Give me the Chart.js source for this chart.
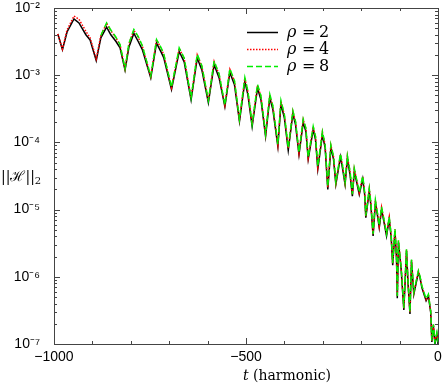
<!DOCTYPE html>
<html>
<head>
<meta charset="utf-8">
<script src="https://cdn.jsdelivr.net/npm/chart.js@4"></script>
<style>
  html, body { margin: 0; padding: 0; background: #fff; }
  #wrap { width: 443px; height: 384px; }
</style>
</head>
<body>
<div id="wrap"><canvas id="c" width="443" height="384"></canvas></div>
<script>
"use strict"
// t values (harmonic time) where the curves were read
let tVals = [-990,-978,-966,-948,-935,-917,-906,-890,-878,-863,-852,-839,-828,-815,-805,-792,-781,-770,-748,-733,-721,-714,-694,-674,-661,-643,-627,-615,-598,-583,-570,-555,-542,-530,-517,-503,-495,-484,-470,-461,-449,-438,-430,-417,-409,-400,-390,-378,-371,-362,-351,-344,-338,-325,-319,-313,-301,-294,-287,-279,-272,-266,-254,-249,-242,-236,-229,-223,-218,-212,-205,-196,-191,-188,-179,-175,-169,-163,-158,-153,-147,-141,-134,-127,-122,-118,-112,-108,-106,-103,-96,-89,-82,-78,-73,-69,-63,-51,-47,-42,-31,-25,-19,-16,-12,-8,-3,0]

let rho2 = [4.1e-3,2.4e-3,4.4e-3,6.9e-3,6.0e-3,4.0e-3,3.35e-3,1.65e-3,3.6e-3,5.2e-3,4.0e-3,3.2e-3,2.55e-3,1.19e-3,2.6e-3,4.2e-3,3.2e-3,2.4e-3,9.1e-4,3.0e-3,2.2e-3,1.8e-3,6.1e-4,2.25e-3,1.58e-3,4.3e-4,1.8e-3,1.2e-3,3.9e-4,1.43e-3,9.1e-4,3.4e-4,1.1e-3,7.2e-4,2.06e-4,8.1e-4,5.1e-4,1.73e-4,6.4e-4,4.3e-4,1.23e-4,4.6e-4,3.07e-4,8.7e-5,3.7e-4,2.3e-4,7.6e-5,2.65e-4,1.84e-4,6.6e-5,1.99e-4,1.45e-4,5.6e-5,1.55e-4,1.1e-4,4.0e-5,1.3e-4,8.4e-5,2.0e-5,8.3e-5,5.6e-5,2.37e-5,6.1e-5,4.2e-5,2.37e-5,5.7e-5,3.3e-5,1.58e-5,3.7e-5,2.6e-5,1.68e-5,2.87e-5,1.68e-5,7.6e-6,1.88e-5,1.19e-5,4.05e-6,1.26e-5,8.5e-6,5.4e-6,1.0e-5,6.7e-6,4.05e-6,7.2e-6,3.9e-6,1.49e-6,4.8e-6,1.82e-6,4.8e-7,3.26e-6,1.3e-6,3.2e-7,2.42e-6,7.8e-7,2.8e-7,1.7e-6,5.5e-7,1.16e-6,9.8e-7,6.9e-7,4.4e-7,5.2e-7,2.95e-7,1.07e-7,1.87e-7,1.0e-7,1.4e-7,1.0e-7]

let rho4 = [4.1e-3,2.45e-3,4.7e-3,7.6e-3,6.8e-3,4.5e-3,3.6e-3,1.75e-3,3.9e-3,5.9e-3,4.6e-3,3.6e-3,2.8e-3,1.25e-3,2.9e-3,4.7e-3,3.7e-3,2.7e-3,9.6e-4,3.35e-3,2.5e-3,2.0e-3,6.5e-4,2.5e-3,1.78e-3,4.6e-4,2.0e-3,1.35e-3,4.2e-4,1.6e-3,1.02e-3,3.6e-4,1.22e-3,8.1e-4,2.2e-4,9.0e-4,5.7e-4,1.85e-4,7.1e-4,4.8e-4,1.32e-4,5.1e-4,3.4e-4,9.3e-5,4.1e-4,2.55e-4,8.1e-5,2.9e-4,2.03e-4,7.0e-5,2.18e-4,1.6e-4,5.9e-5,1.7e-4,1.21e-4,4.3e-5,1.42e-4,9.2e-5,2.15e-5,9.0e-5,6.1e-5,2.5e-5,6.6e-5,4.6e-5,2.5e-5,6.2e-5,3.6e-5,1.68e-5,4.0e-5,2.8e-5,1.78e-5,3.1e-5,1.8e-5,8.0e-6,2.03e-5,1.28e-5,4.3e-6,1.36e-5,9.1e-6,5.7e-6,1.08e-5,7.2e-6,4.3e-6,7.7e-6,4.15e-6,1.57e-6,5.1e-6,1.93e-6,5.1e-7,3.45e-6,1.38e-6,3.4e-7,2.55e-6,8.2e-7,2.95e-7,1.78e-6,5.8e-7,1.21e-6,1.02e-6,7.2e-7,4.6e-7,5.4e-7,3.05e-7,1.12e-7,1.95e-7,1.05e-7,1.45e-7,1.05e-7]

let rho8 = [null,null,null,null,null,null,null,null,3.9e-3,6.0e-3,4.7e-3,3.7e-3,2.85e-3,1.26e-3,2.95e-3,4.8e-3,3.8e-3,2.75e-3,9.7e-4,3.4e-3,2.55e-3,2.05e-3,6.6e-4,2.55e-3,1.8e-3,4.6e-4,2.05e-3,1.38e-3,4.2e-4,1.63e-3,1.04e-3,3.6e-4,1.25e-3,8.3e-4,2.2e-4,9.2e-4,5.8e-4,1.86e-4,7.3e-4,4.9e-4,1.33e-4,5.2e-4,3.5e-4,9.4e-5,4.2e-4,2.6e-4,8.2e-5,2.95e-4,2.06e-4,7.1e-5,2.22e-4,1.63e-4,6.0e-5,1.73e-4,1.23e-4,4.4e-5,1.45e-4,9.4e-5,2.2e-5,9.2e-5,6.2e-5,2.55e-5,6.8e-5,4.7e-5,2.55e-5,6.3e-5,3.7e-5,1.7e-5,4.1e-5,2.85e-5,1.8e-5,3.15e-5,1.83e-5,8.1e-6,2.06e-5,1.3e-5,4.35e-6,1.38e-5,9.2e-6,5.8e-6,1.1e-5,7.3e-6,4.35e-6,7.8e-6,4.2e-6,1.6e-6,5.2e-6,1.95e-6,5.2e-7,3.5e-6,1.4e-6,3.45e-7,2.6e-6,8.3e-7,3.0e-7,1.8e-6,5.9e-7,1.23e-6,1.03e-6,7.3e-7,4.7e-7,5.5e-7,3.1e-7,1.13e-7,1.97e-7,1.06e-7,1.47e-7,1.06e-7]

let xTicks = [-1000,-500,0]
let yDecades = [-7,-6,-5,-4,-3,-2]
let seriesNames = ['2','4','8']

let sup = {'-':'\u207B','0':'\u2070','1':'\u00B9','2':'\u00B2','3':'\u00B3','4':'\u2074','5':'\u2075','6':'\u2076','7':'\u2077','8':'\u2078','9':'\u2079'}
let pow10 = n => '10' + String(n).split('').map(ch => sup[ch]).join('')
let pts = arr => tVals.map((t, i) => ({x: t, y: arr[i]}))

let styles = [
	{color: '#000000', dash: [], w: 1.5},
	{color: '#ff0000', dash: [1.5, 1.5], w: 1.5},
	{color: '#00ee00', dash: [6, 3], w: 1.5}
]

// inward ticks, frame, legend and axis titles
let decor = {
	id: 'decor',
	afterDraw: c => {
		let g = c.ctx, a = c.chartArea, xs = c.scales.x, ys = c.scales.y
		g.save()
		g.strokeStyle = '#444'
		g.lineWidth = 1
		g.strokeRect(Math.round(a.left) + 0.5, Math.round(a.top) + 0.5, Math.round(a.right - a.left), Math.round(a.bottom - a.top))
		g.beginPath()
		yDecades.forEach(n => {
			for (let m = 1; m <= 9; m++) {
				if (n === -2 && m > 1) break
				let y = Math.round(ys.getPixelForValue(m * Math.pow(10, n))) + 0.5
				let len = m === 1 ? 6 : 3
				g.moveTo(a.left, y); g.lineTo(a.left + len, y)
				g.moveTo(a.right, y); g.lineTo(a.right - len, y)
			}
		})
		for (let t = -1000; t <= 0; t += 100) {
			let x = Math.round(xs.getPixelForValue(t)) + 0.5
			let len = t % 500 === 0 ? 6 : 3
			g.moveTo(x, a.bottom); g.lineTo(x, a.bottom - len)
			g.moveTo(x, a.top); g.lineTo(x, a.top + len)
		}
		g.stroke()

		// legend
		g.textBaseline = 'middle'
		seriesNames.forEach((nm, i) => {
			let y = 32.5 + i * 17, s = styles[i]
			g.beginPath()
			g.strokeStyle = s.color
			g.lineWidth = s.w
			g.setLineDash(s.dash)
			g.moveTo(247, y); g.lineTo(278, y)
			g.stroke()
			g.setLineDash([])
			g.fillStyle = '#000'
			g.font = 'italic 16px "DejaVu Serif"'
			g.fillText('\u03C1', 287, y)
			g.font = '16px "DejaVu Serif"'
			g.fillText('=', 302, y)
			g.fillText(nm, 319, y)
		})

		// y title
		g.font = '14px "DejaVu Serif"'
		g.fillText('||', 1, 177)
		let w = g.measureText('||').width
		g.fillText('\u210B', 1 + w, 177)
		w += g.measureText('\u210B').width
		g.fillText('||', 1 + w, 177)
		w += g.measureText('||').width
		g.font = '10px "DejaVu Serif"'
		g.fillText('2', 1 + w, 181)

		// x title
		g.font = 'italic 14px "DejaVu Serif"'
		g.fillText('t', 243, 376)
		g.font = '14px "DejaVu Serif"'
		g.fillText('(harmonic)', 253, 376)
		g.restore()
	}
}

new Chart(document.getElementById('c'), {
	type: 'line',
	data: {
		datasets: [
			{label: 'rho = 8', data: pts(rho8), order: 0},
			{label: 'rho = 4', data: pts(rho4), order: 1},
			{label: 'rho = 2', data: pts(rho2), order: 2}
		].map(d => {
			let s = styles[seriesNames.indexOf(d.label.slice(-1))]
			return Object.assign(d, {
				borderColor: s.color, borderWidth: s.w, borderDash: s.dash,
				pointRadius: 0, tension: 0, fill: false, spanGaps: false
			})
		})
	},
	options: {
		responsive: false,
		animation: false,
		events: [],
		layout: {padding: {left: 0, top: 8, right: 5, bottom: 0}},
		plugins: {legend: {display: false}, tooltip: {enabled: false}},
		scales: {
			x: {
				type: 'linear', min: -1000, max: 0,
				afterFit: s => { s.height = 40; s.paddingLeft = 0; s.paddingRight = 0 },
				afterBuildTicks: s => { s.ticks = xTicks.map(v => ({value: v})) },
				grid: {display: false, drawTicks: false},
				border: {display: false},
				ticks: {
					autoSkip: false, maxRotation: 0, padding: 5, color: '#000',
					font: {family: '"Liberation Sans"', size: 14},
					callback: v => v < 0 ? '\u2212' + Math.abs(v) : String(v)
				}
			},
			y: {
				type: 'logarithmic', min: 1e-7, max: 1e-2,
				afterFit: s => { s.width = 54; s.paddingTop = 0; s.paddingBottom = 0 },
				afterBuildTicks: s => { s.ticks = yDecades.map(n => ({value: Math.pow(10, n)})) },
				grid: {display: false, drawTicks: false},
				border: {display: false},
				ticks: {
					autoSkip: false, padding: 14, color: '#000',
					font: {family: '"Liberation Sans"', size: 14},
					callback: v => pow10(Math.round(Math.log10(v)))
				}
			}
		}
	},
	plugins: [decor]
})
</script>
</body>
</html>
